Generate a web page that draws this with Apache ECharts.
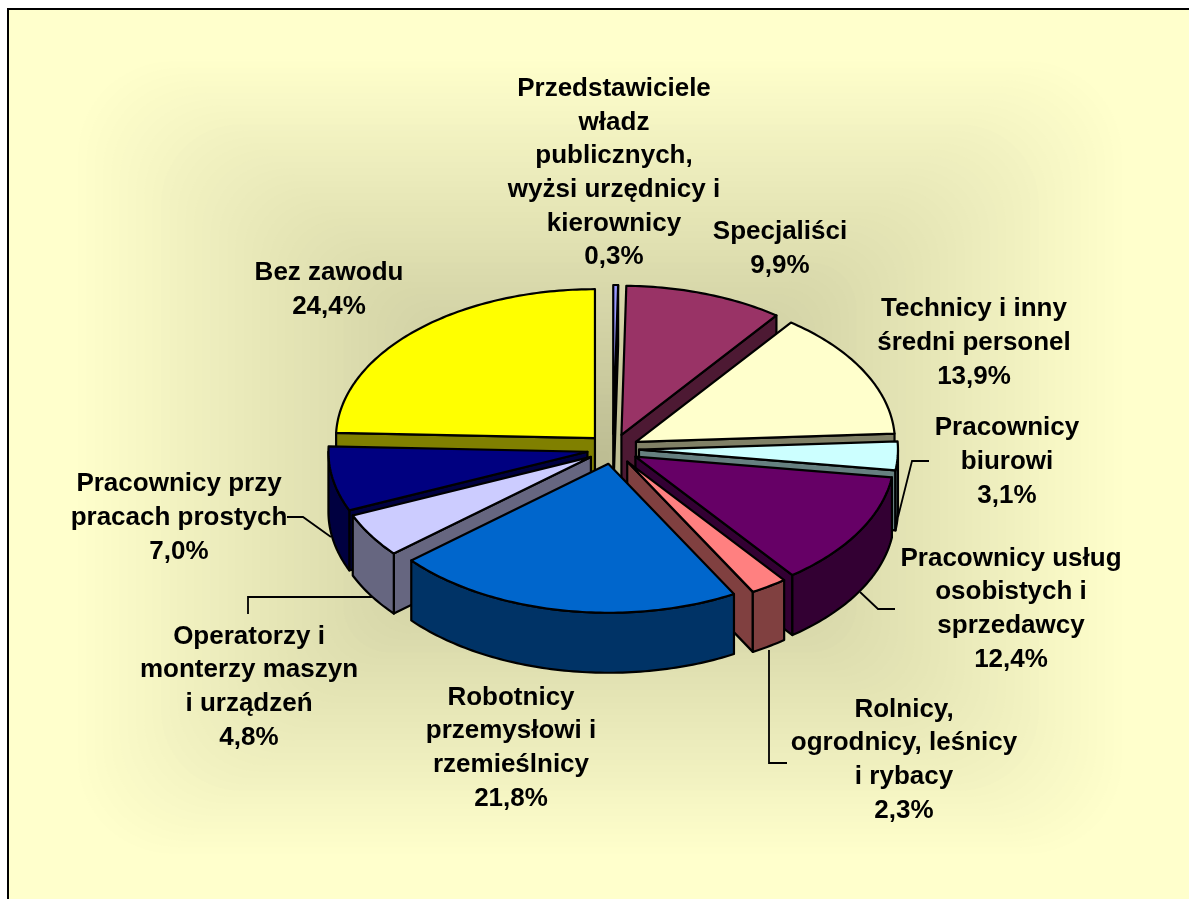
<!DOCTYPE html>
<html>
<head>
<meta charset="utf-8">
<style>html,body{margin:0;padding:0;background:#fff}#c{width:1189px;height:899px}</style>
<script src="https://cdn.jsdelivr.net/npm/echarts@6/dist/echarts.min.js"></script>
</head>
<body>
<div id="c"></div>
<script>
// ---- data ----
const categories = [
  'Przedstawiciele\nwładz\npublicznych,\nwyżsi urzędnicy i\nkierownicy',
  'Specjaliści',
  'Technicy i inny\nśredni personel',
  'Pracownicy\nbiurowi',
  'Pracownicy usług\nosobistych i\nsprzedawcy',
  'Rolnicy,\nogrodnicy, leśnicy\ni rybacy',
  'Robotnicy\nprzemysłowi i\nrzemieślnicy',
  'Operatorzy i\nmonterzy maszyn\ni urządzeń',
  'Pracownicy przy\npracach prostych',
  'Bez zawodu'
];
const values = [0.3, 9.9, 13.9, 3.1, 12.4, 2.3, 21.8, 4.8, 7.0, 24.4];

// ---- styling and layout, kept apart from the data ----
const topColors  = ['#9999FF','#993366','#FFFFCC','#CCFFFF','#660066','#FF8080','#0066CC','#CCCCFF','#000080','#FFFF00'];
const wallColors = ['#4C4C80','#4D1933','#808066','#668080','#330033','#804040','#003366','#666680','#000040','#808000'];
const labelCentres = [[614,173],[780,249],[974,343],[1007,462],[1011,609],[904,760],[511,748],[249,687],[179,518],[329,290]];
const leaderLines = [
  [[898,517],[912,461],[929,461]],
  [[860,592],[878,609],[895,609]],
  [[769,650],[769,763],[787,763]],
  [[248,614],[248,597],[372,597]],
  [[287,517],[303,517],[331,537]]
];
const pie = {cx:613, cy:449, rx:259, ry:149, explodeX:26, explodeY:15, depth:60};
const total = values.reduce((a,b)=>a+b,0);
const ang = p => p / total * 2 * Math.PI;

// draw order: back slices first
let acc = 0;
const slices = values.map((v,i)=>{const s=acc; acc+=v; return [i,v,s];});
const drawOrder = slices.slice().sort((a,b)=>Math.cos(ang(b[2]+b[1]/2))-Math.cos(ang(a[2]+a[1]/2)));

function arcPoints(ax,ay,a0,a1,dy){
  const n=Math.max(2,Math.ceil((a1-a0)/(Math.PI/180)));
  const pts=[];
  for(let k=0;k<=n;k++){
    const t=a0+(a1-a0)*k/n;
    pts.push([ax+pie.rx*Math.sin(t), ay-pie.ry*Math.cos(t)+dy]);
  }
  return pts;
}
function renderSlice(params,api){
  const idx=api.value(0), v=api.value(1), s=api.value(2);
  const a0=ang(s), a1=ang(s+v), m=(a0+a1)/2;
  const ax=pie.cx+pie.explodeX*Math.sin(m), ay=pie.cy-pie.explodeY*Math.cos(m), D=pie.depth;
  const edge={stroke:'#000',lineWidth:2.2,lineJoin:'round'};
  const face=(pts,fill)=>({type:'polygon',shape:{points:pts},style:Object.assign({fill},edge)});
  const kids=[];
  const wall=wallColors[idx];
  const radial=a=>{const r=[ax+pie.rx*Math.sin(a),ay-pie.ry*Math.cos(a)];
    return [[ax,ay],r,[r[0],r[1]+D],[ax,ay+D]];};
  if(Math.sin(a0)<0) kids.push(face(radial(a0),wall));
  if(Math.sin(a1)>0) kids.push(face(radial(a1),wall));
  const f0=Math.max(a0,Math.PI/2), f1=Math.min(a1,Math.PI*1.5);
  if(f1>f0){
    const upper=arcPoints(ax,ay,f0,f1,0), lower=arcPoints(ax,ay,f0,f1,D).reverse();
    kids.push(face(upper.concat(lower),wall));
  }
  kids.push(face([[ax,ay]].concat(arcPoints(ax,ay,a0,a1,0)),topColors[idx]));
  return {type:'group',children:kids};
}
function renderLabel(params,api){
  const idx=api.value(0), c=labelCentres[idx];
  return {type:'text',x:c[0],y:c[1],
    style:{text:categories[idx]+'\n'+values[idx].toFixed(1).replace('.',',')+'%',
      fill:'#000',font:'bold 26px "Liberation Sans", Arial, sans-serif',
      lineHeight:33.7,align:'center',verticalAlign:'middle'}};
}

// background: rectangular path gradient
function bgElements(){
  const els=[{type:'rect',shape:{x:8,y:9,width:1300,height:1000},
    style:{fill:'#FFFFCC',stroke:'#000',lineWidth:2},z:0}];
  const N=64, L=70,R=1130,T=55,B=860, mx=(L+R)/2, my=(T+B)/2;
  const c0=[255,255,204], c1=[188,188,146];
  for(let i=1;i<=N;i++){
    const t=i/N;
    const col='rgb('+c0.map((c,k)=>Math.round(c+(c1[k]-c)*t)).join(',')+')';
    const w=(R-L)*(1-t), h=(B-T)*(1-t);
    els.push({type:'rect',shape:{x:mx-w/2,y:my-h/2,width:w,height:h,r:Math.min(w,h)*0.12},
      style:{fill:col},z:0});
  }
  leaderLines.forEach(p=>els.push({type:'polyline',shape:{points:p},
    style:{stroke:'#000',lineWidth:1.8,fill:null},z:1}));
  return els;
}

const chart=echarts.init(document.getElementById('c'),null,{renderer:'canvas'});
chart.setOption({
  animation:false,
  graphic:{elements:bgElements()},
  series:[
    {type:'custom',coordinateSystem:'none',z:5,silent:true,renderItem:renderSlice,
     encode:{},data:drawOrder},
    {type:'custom',coordinateSystem:'none',z:6,silent:true,renderItem:renderLabel,
     encode:{},data:slices}
  ]
});
</script>
</body>
</html>
